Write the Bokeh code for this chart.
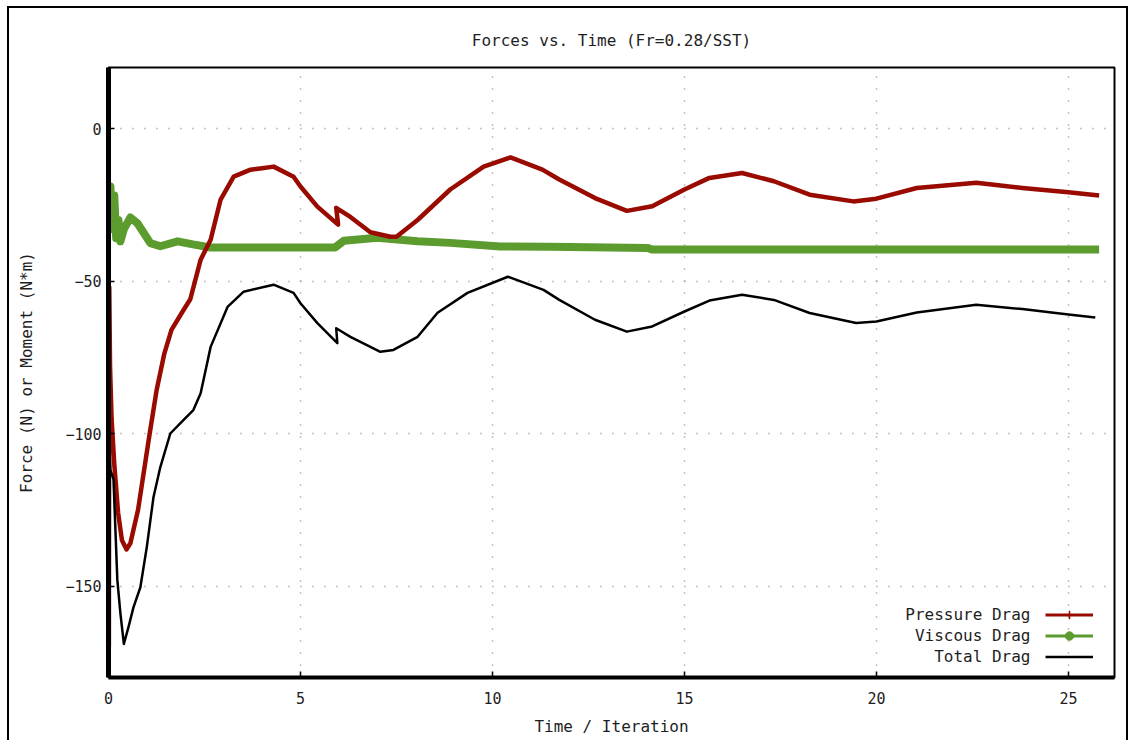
from bokeh.plotting import figure
from bokeh.models import Range1d, FixedTicker, Legend, LegendItem, Label
from bokeh.embed import file_html
from bokeh.resources import INLINE

title_text = "Forces vs. Time (Fr=0.28/SST)"
x_label = "Time / Iteration"
y_label = "Force (N) or Moment (N*m)"
x_ticks = [0, 5, 10, 15, 20, 25]
y_ticks = [-150, -100, -50, 0]

series_names = ["Pressure Drag", "Viscous Drag", "Total Drag"]

pressure_t = [0, 0.01, 0.02, 0.04, 0.08, 0.15, 0.25, 0.35, 0.47, 0.57, 0.77, 1.06, 1.25,
              1.45, 1.64, 1.93, 2.13, 2.4, 2.66, 2.92, 3.26, 3.7, 4.0, 4.3, 4.82, 5.0,
              5.44, 5.98, 5.93, 6.3, 6.82, 7.34, 7.5, 8.05, 8.9, 9.77, 10.47, 11.3,
              11.74, 12.67, 13.5, 14.16, 15.0, 15.65, 16.5, 17.33, 18.26, 19.4, 20.0,
              21.05, 22.6, 23.8, 25.0, 25.8]
pressure_v = [3, -170, -52, -78, -95, -110, -126, -135, -138, -136, -125, -101, -86,
              -74, -66, -60, -56, -43, -36.5, -23.3, -15.8, -13.5, -13, -12.5, -15.8, -19,
              -25.6, -31.5, -26, -29, -34, -35.5, -35.5, -30, -20, -12.5, -9.5, -13.5,
              -16.7, -22.8, -27, -25.5, -20, -16.2, -14.6, -17.3, -21.7, -23.9, -23,
              -19.5, -17.8, -19.5, -20.9, -22]

viscous_t = [0, 0.05, 0.1, 0.15, 0.2, 0.26, 0.31, 0.4, 0.57, 0.75, 1.09, 1.35, 1.8,
             2.2, 2.66, 5.9, 6.13, 7.0, 8.05, 8.9, 10.2, 11.5, 14.05, 14.15, 25.8]
viscous_v = [-25, -19, -33, -22, -36, -30, -37, -33, -29.2, -31, -37.6, -38.6, -37,
             -38, -39, -39, -36.8, -35.8, -37, -37.5, -38.7, -38.8, -39.2, -39.7, -39.7]

total_t = [0, 0.05, 0.13, 0.23, 0.31, 0.4, 0.52, 0.65, 0.83, 1.0, 1.17, 1.35, 1.61,
           1.95, 2.21, 2.4, 2.66, 3.1, 3.52, 4.3, 4.82, 5.0, 5.44, 5.96, 5.93, 6.3,
           7.08, 7.42, 8.05, 8.57, 9.35, 10.4, 11.33, 11.74, 12.67, 13.5, 14.16, 15.0,
           15.65, 16.5, 17.33, 18.26, 19.47, 20.0, 21.05, 22.6, 23.8, 25.0, 25.7]
total_v = [-100, -112, -115, -148, -159, -169, -163.5, -157, -150.4, -137, -121, -111,
           -100, -95.6, -92.3, -86.8, -71.6, -58.5, -53.5, -51.2, -53.9, -57.3, -63.8,
           -70.4, -65.5, -68.3, -73.2, -72.6, -68.3, -60.4, -53.9, -48.6, -52.9, -56.2,
           -62.7, -66.6, -64.9, -60, -56.4, -54.5, -56.2, -60.5, -63.8, -63.3, -60.3,
           -57.8, -59.2, -61, -62]

RED = "#990a00"
GREEN = "#5c9c2f"
BLACK = "#000000"
FONT = "DejaVu Sans Mono"
TXT = "#1e1e1e"
NAN = float("nan")

# canvas sits inside a thin black page frame (starts at x=9, y=8 of the window);
# the frame's bottom edge falls below the visible window, as in the reference
p = figure(width=1121, height=740, output_backend="svg", toolbar_location=None,
           x_range=Range1d(0, 26.2), y_range=Range1d(-180, 20),
           min_border_left=99, min_border_right=16, min_border_top=59,
           min_border_bottom=71, background_fill_color="white",
           border_fill_color="white",
           styles={"border": "2px solid black", "margin-left": "7px",
                   "margin-top": "6px"})

p.title.text = title_text
p.title.align = "center"
p.title.text_font = FONT
p.title.text_font_size = "16px"
p.title.text_font_style = "normal"
p.title.text_color = TXT
p.title.standoff = 36

p.outline_line_color = "black"
p.outline_line_width = 2
p.outline_line_alpha = 1

for ax, ticks in ((p.xaxis[0], x_ticks), (p.yaxis[0], y_ticks)):
    ax.ticker = FixedTicker(ticks=ticks)
    ax.minor_tick_line_color = None
    ax.major_tick_in = 6
    ax.major_tick_out = 0
    ax.major_tick_line_color = "black"
    ax.major_tick_line_width = 1.5
    ax.axis_line_color = "black"
    ax.major_label_text_font = FONT
    ax.major_label_text_font_size = "15px"
    ax.major_label_text_color = TXT
    ax.axis_label_text_font = FONT
    ax.axis_label_text_font_size = "16px"
    ax.axis_label_text_font_style = "normal"
    ax.axis_label_text_color = TXT

p.xaxis.axis_label = x_label
p.yaxis.axis_label = y_label
p.xaxis.axis_line_width = 4
p.yaxis.axis_line_width = 5
p.xaxis.major_label_standoff = 14
p.xaxis.axis_label_standoff = 10
p.yaxis.major_label_standoff = 7
p.yaxis.axis_label_standoff = 26

for g in (p.xgrid[0], p.ygrid[0]):
    g.grid_line_color = "#8a8a8a"
    g.grid_line_dash = "1 11"
    g.grid_line_width = 1.5
p.xgrid.ticker = FixedTicker(ticks=x_ticks)
p.ygrid.ticker = FixedTicker(ticks=y_ticks)

p.line(viscous_t, viscous_v, color=GREEN, line_width=8, line_join="round")
p.line(pressure_t, pressure_v, color=RED, line_width=4.5, line_join="round")
p.line(total_t, total_v, color=BLACK, line_width=2.5, line_join="round")

# legend proxies (single NaN point: never drawn in the plot, only in the legend)
lp = p.line([NAN], [NAN], color=RED, line_width=3)
lps = p.scatter([NAN], [NAN], marker="cross", size=8, color=RED, line_width=1.5)
lv = p.line([NAN], [NAN], color=GREEN, line_width=3)
lvs = p.scatter([NAN], [NAN], marker="circle", size=7, color=GREEN)
lt = p.line([NAN], [NAN], color=BLACK, line_width=2.5)

legend = Legend(items=[LegendItem(label=" ", renderers=[lp, lps]),
                       LegendItem(label=" ", renderers=[lv, lvs]),
                       LegendItem(label=" ", renderers=[lt])],
                location=(937, 10), glyph_width=48, glyph_height=21,
                label_height=21, label_width=1, label_standoff=0, padding=0,
                margin=0, spacing=0, border_line_alpha=0,
                background_fill_alpha=0, label_text_font_size="1px")
p.add_layout(legend)

for i, name in enumerate(series_names):
    p.add_layout(Label(x=922, y=63 - 21 * i, x_units="screen", y_units="screen",
                       text=name, text_align="right", text_baseline="middle",
                       text_font=FONT, text_font_size="16px", text_color=TXT))

open("out.html", "w").write(file_html(p, INLINE))
